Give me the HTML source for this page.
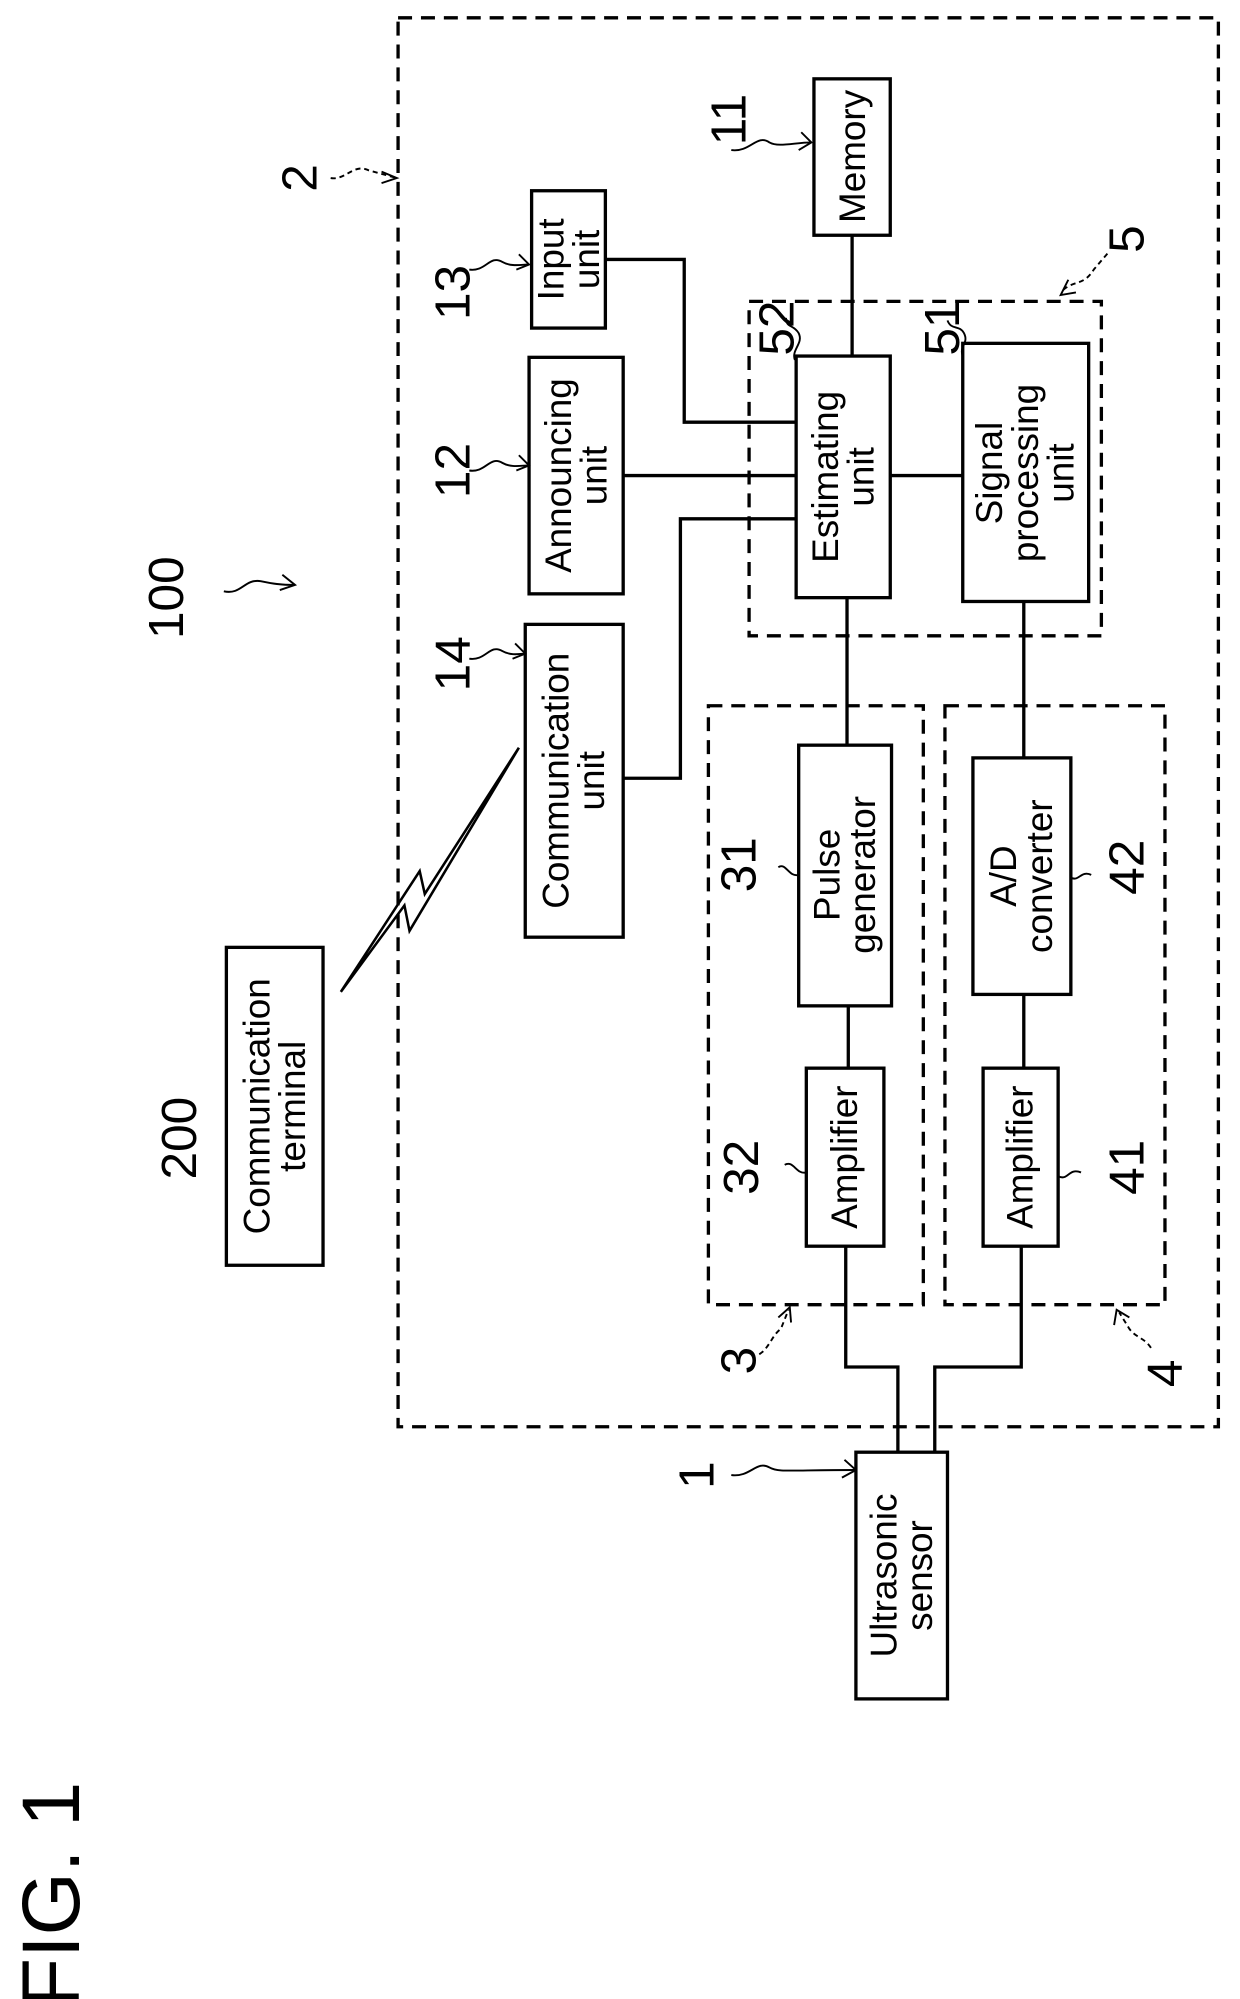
<!DOCTYPE html>
<html><head><meta charset="utf-8"><style>
html,body{margin:0;padding:0;background:#fff;}
svg{display:block;}
text{font-family:"Liberation Sans",Arial,sans-serif;fill:#000;}
</style></head><body>
<svg width="1240" height="1999" viewBox="0 0 975 1572" preserveAspectRatio="none" xmlns="http://www.w3.org/2000/svg">
<g fill="none" stroke="#000" stroke-width="2.6">
<rect x="313" y="14" width="645" height="1108" stroke-dasharray="11,7"/>
<rect x="589" y="237" width="277" height="263" stroke-dasharray="11,7"/>
<rect x="557" y="555" width="169" height="471" stroke-dasharray="11,7"/>
<rect x="743" y="555" width="173" height="471" stroke-dasharray="11,7"/>
<rect x="640" y="62" width="60" height="123"/>
<rect x="418" y="150" width="58" height="108"/>
<rect x="416" y="281" width="74" height="186"/>
<rect x="413" y="491" width="77" height="246"/>
<rect x="626" y="280" width="74" height="190"/>
<rect x="757" y="270" width="99" height="203"/>
<rect x="628" y="586" width="73" height="205"/>
<rect x="634" y="840" width="61" height="140"/>
<rect x="765" y="596" width="77" height="186"/>
<rect x="773" y="840" width="59" height="140"/>
<rect x="673" y="1142" width="72" height="194"/>
<rect x="178" y="745" width="76" height="250"/>
<polyline points="670,185 670,280"/>
<polyline points="476,204 538,204 538,332 626,332"/>
<polyline points="490,374 626,374"/>
<polyline points="700,374 757,374"/>
<polyline points="490,612 535,612 535,408 626,408"/>
<polyline points="666,470 666,586"/>
<polyline points="805,473 805,596"/>
<polyline points="667,791 667,840"/>
<polyline points="805,782 805,840"/>
<polyline points="665,980 665,1075 706,1075 706,1142"/>
<polyline points="803,980 803,1075 735,1075 735,1142"/>
<polygon stroke-width="2" points="268,780 318,712 322,732 408,588 334,703 330,685"/>
</g>
<g fill="none" stroke="#000" stroke-width="1.5">
<path d="M575,118 C590,120 595,105 605,112 C612,116 625,112 638,112"/><path d="M630,104 L638,112 L628,118"/>
<path d="M369,212 C382,214 385,200 395,206 C402,210 410,208 416,208"/><path d="M408,200 L416,208 L406,212"/>
<path d="M369,370 C382,372 385,358 395,364 C402,368 410,366 416,366"/><path d="M408,358 L416,366 L406,370"/>
<path d="M369,518 C382,520 385,506 395,512 C402,516 410,514 413,514"/><path d="M405,506 L413,514 L403,518"/>
<path d="M176,465 C190,468 192,455 205,457 C215,459 220,460 232,460"/><path d="M222,452 L232,460 L220,464"/>
<path d="M260,140 C272,142 278,128 290,134 L312,140" stroke-dasharray="4,3"/><path d="M300,135 L312,140 L300,144"/>
<path d="M625,283 C622,275 632,270 628,262 C624,255 618,258 618,250"/>
<path d="M757,280 C754,272 762,270 758,262 C754,255 748,260 745,252"/>
<path d="M836,228 C845,220 852,225 860,212 L872,198" stroke-dasharray="4,3"/><path d="M840,220 L834,232 L846,230"/>
<path d="M628,688 C620,690 618,678 612,682"/>
<path d="M634,922 C626,924 624,912 617,916"/>
<path d="M842,690 C848,694 850,684 858,688"/>
<path d="M832,925 C840,929 840,918 850,922"/>
<path d="M597,1065 C605,1060 607,1050 614,1045 L620,1030" stroke-dasharray="4,3"/><path d="M612,1036 L621,1028 L622,1040"/>
<path d="M905,1060 C900,1052 893,1052 888,1045 L880,1032" stroke-dasharray="4,3"/><path d="M876,1042 L878,1030 L888,1036"/>
<path d="M575,1160 C590,1162 595,1148 605,1154 C612,1158 620,1156 673,1156"/><path d="M664,1148 L673,1156 L662,1162"/>
</g>
<g font-size="29">
<text transform="translate(670,123) rotate(-90)" text-anchor="middle" dy="10">Memory</text>
<text transform="translate(447,204) rotate(-90)" text-anchor="middle"><tspan x="0" dy="-4">Input</tspan><tspan x="0" dy="28">unit</tspan></text>
<text transform="translate(453,374) rotate(-90)" text-anchor="middle"><tspan x="0" dy="-4">Announcing</tspan><tspan x="0" dy="28">unit</tspan></text>
<text transform="translate(451,614) rotate(-90)" text-anchor="middle"><tspan x="0" dy="-4">Communication</tspan><tspan x="0" dy="28">unit</tspan></text>
<text transform="translate(663,375) rotate(-90)" text-anchor="middle"><tspan x="0" dy="-4">Estimating</tspan><tspan x="0" dy="28">unit</tspan></text>
<text transform="translate(806,372) rotate(-90)" text-anchor="middle"><tspan x="0" dy="-18">Signal</tspan><tspan x="0" dy="28">processing</tspan><tspan x="0" dy="28">unit</tspan></text>
<text transform="translate(664,688) rotate(-90)" text-anchor="middle"><tspan x="0" dy="-4">Pulse</tspan><tspan x="0" dy="28">generator</tspan></text>
<text transform="translate(664,910) rotate(-90)" text-anchor="middle" dy="10">Amplifier</text>
<text transform="translate(803,689) rotate(-90)" text-anchor="middle"><tspan x="0" dy="-4">A/D</tspan><tspan x="0" dy="28">converter</tspan></text>
<text transform="translate(802,910) rotate(-90)" text-anchor="middle" dy="10">Amplifier</text>
<text transform="translate(709,1239) rotate(-90)" text-anchor="middle"><tspan x="0" dy="-4">Ultrasonic</tspan><tspan x="0" dy="28">sensor</tspan></text>
<text transform="translate(216,870) rotate(-90)" text-anchor="middle"><tspan x="0" dy="-4">Communication</tspan><tspan x="0" dy="28">terminal</tspan></text>
</g>
<g font-size="39">
<text transform="translate(130,470) rotate(-90)" text-anchor="middle" dy="14">100</text>
<text transform="translate(140,895) rotate(-90)" text-anchor="middle" dy="14">200</text>
<text transform="translate(235,140) rotate(-90)" text-anchor="middle" dy="14">2</text>
<text transform="translate(355,230) rotate(-90)" text-anchor="middle" dy="14">13</text>
<text transform="translate(355,370) rotate(-90)" text-anchor="middle" dy="14">12</text>
<text transform="translate(355,522) rotate(-90)" text-anchor="middle" dy="14">14</text>
<text transform="translate(572,94) rotate(-90)" text-anchor="middle" dy="14">11</text>
<text transform="translate(610,258) rotate(-90)" text-anchor="middle" dy="14">52</text>
<text transform="translate(740,258) rotate(-90)" text-anchor="middle" dy="14">51</text>
<text transform="translate(885,188) rotate(-90)" text-anchor="middle" dy="14">5</text>
<text transform="translate(580,680) rotate(-90)" text-anchor="middle" dy="14">31</text>
<text transform="translate(582,918) rotate(-90)" text-anchor="middle" dy="14">32</text>
<text transform="translate(885,682) rotate(-90)" text-anchor="middle" dy="14">42</text>
<text transform="translate(885,918) rotate(-90)" text-anchor="middle" dy="14">41</text>
<text transform="translate(580,1070) rotate(-90)" text-anchor="middle" dy="14">3</text>
<text transform="translate(915,1080) rotate(-90)" text-anchor="middle" dy="14">4</text>
<text transform="translate(547,1160) rotate(-90)" text-anchor="middle" dy="14">1</text>
</g>
<text transform="translate(40,1490) rotate(-90)" text-anchor="middle" dy="22" font-size="64">FIG. 1</text>
</svg>
</body></html>
